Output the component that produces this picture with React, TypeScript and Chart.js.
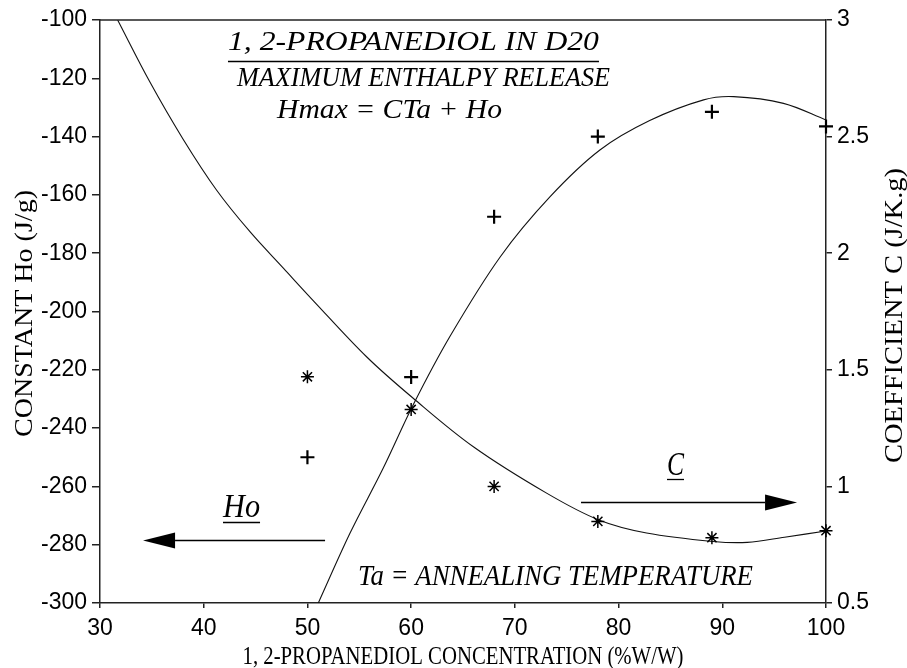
import React, { useEffect, useRef } from "react";
import { Chart, registerables } from "chart.js";

Chart.register(...registerables);

// Measured data (concentration %W/W)
const concentration = [50, 60, 68, 78, 89, 100];
const hoValues = [-250, -222.5, -167.5, -140, -131.5, -136.5];
const cValues = [1.47, 1.33, 1.0, 0.85, 0.78, 0.81];

// Fitted curves
const hoCurveX = [51.05, 54.1, 57.3, 60.2, 63.75, 68.6, 73.4, 78.2, 83.0, 88.2, 91.1, 95.9, 100];
const hoCurveY = [-300, -276.1, -253.8, -232, -208.5, -181.2, -160.6, -144.6, -134.5, -127.4, -126.3, -128.6, -134.3];
const cCurveX = [31.7, 34.8, 38.0, 41.25, 44.5, 47.7, 50.6, 55.7, 60.2, 66.0, 73.1, 78.1, 82.7, 89.1, 92.4, 96.0, 100];
const cCurveY = [3.0, 2.735, 2.49, 2.27, 2.09, 1.935, 1.795, 1.556, 1.378, 1.17, 0.97, 0.856, 0.8, 0.764, 0.76, 0.782, 0.809];

// Tick values
const xTicks = [30, 40, 50, 60, 70, 80, 90, 100];
const hoTicks = [-300, -280, -260, -240, -220, -200, -180, -160, -140, -120, -100];
const cTicks = [0.5, 1, 1.5, 2, 2.5, 3];

const xTitle = "1, 2-PROPANEDIOL CONCENTRATION (%W/W)";
const hoTitle = "CONSTANT Ho (J/g)";
const cTitle = "COEFFICIENT C (J/K.g)";

const SERIF = '"Liberation Serif", "DejaVu Serif", serif';
const SANS = '"Liberation Sans", Arial, sans-serif';

// Annotations placed in data coordinates (x: concentration, y: Ho axis)
const notes = [
  { text: "1, 2-PROPANEDIOL IN D20", x0: 42.34, x1: 78.11, y: -110.3, size: 28, underline: -114.1 },
  { text: "MAXIMUM ENTHALPY RELEASE", x0: 43.21, x1: 79.18, y: -122.6, size: 27 },
  { text: "Hmax = CTa + Ho", x0: 47.07, x1: 68.76, y: -133.6, size: 27 },
  { text: "Ho", x0: 41.86, x1: 45.43, y: -270.5, size: 34, underline: -272.2 },
  { text: "C", x0: 84.67, x1: 86.31, y: -256.1, size: 34, underline: -257.5 },
  { text: "Ta = ANNEALING TEMPERATURE", x0: 54.88, x1: 92.96, y: -293.8, size: 30 },
];
const arrows = [
  { from: 51.7, tip: 34.15, y: -278.4 },
  { from: 76.38, tip: 97.21, y: -265.2 },
];

function drawFitted(ctx: CanvasRenderingContext2D, text: string, left: number, width: number, baseline: number, font: string) {
  ctx.save();
  ctx.font = font;
  const w = ctx.measureText(text).width;
  ctx.translate(left, baseline);
  ctx.scale(width / w, 1);
  ctx.textAlign = "left";
  ctx.textBaseline = "alphabetic";
  ctx.fillText(text, 0, 0);
  ctx.restore();
}

function drawFittedCentered(ctx: CanvasRenderingContext2D, text: string, cx: number, baseline: number, len: number, font: string, rot: number) {
  ctx.save();
  ctx.font = font;
  const w = ctx.measureText(text).width;
  ctx.translate(cx, baseline);
  ctx.rotate(rot);
  ctx.scale(len / w, 1);
  ctx.textAlign = "center";
  ctx.textBaseline = "alphabetic";
  ctx.fillText(text, 0, 0);
  ctx.restore();
}

const decorPlugin = {
  id: "decor",
  beforeDraw(chart: any) {
    const { ctx } = chart;
    ctx.save();
    ctx.fillStyle = "#fff";
    ctx.fillRect(0, 0, chart.width, chart.height);
    ctx.restore();
  },
  afterDraw(chart: any) {
    const { ctx, chartArea } = chart;
    const x = chart.scales.x;
    const y = chart.scales.yHo;
    ctx.save();
    ctx.strokeStyle = "#222";
    ctx.lineWidth = 1.5;
    ctx.beginPath();
    ctx.moveTo(chartArea.left, chartArea.top);
    ctx.lineTo(chartArea.right, chartArea.top);
    ctx.stroke();

    ctx.fillStyle = "#000";
    ctx.strokeStyle = "#000";
    for (const n of notes) {
      const l = x.getPixelForValue(n.x0);
      const r = x.getPixelForValue(n.x1);
      const b = y.getPixelForValue(n.y);
      drawFitted(ctx, n.text, l, r - l, b, `italic ${n.size}px ${SERIF}`);
      if (n.underline !== undefined) {
        const u = Math.round(y.getPixelForValue(n.underline)) + 0.5;
        ctx.lineWidth = 1.3;
        ctx.beginPath();
        ctx.moveTo(l, u);
        ctx.lineTo(r, u);
        ctx.stroke();
      }
    }

    for (const a of arrows) {
      const p0 = x.getPixelForValue(a.from);
      const pt = x.getPixelForValue(a.tip);
      const py = Math.round(y.getPixelForValue(a.y)) + 0.5;
      const dir = pt > p0 ? 1 : -1;
      const head = 32;
      const half = 8;
      ctx.lineWidth = 1.3;
      ctx.beginPath();
      ctx.moveTo(p0, py);
      ctx.lineTo(pt - dir * head, py);
      ctx.stroke();
      ctx.beginPath();
      ctx.moveTo(pt, py);
      ctx.lineTo(pt - dir * head, py - half);
      ctx.lineTo(pt - dir * head, py + half);
      ctx.closePath();
      ctx.fill();
    }

    // Axis titles
    const midY = (chartArea.top + chartArea.bottom) / 2;
    const midX = (chartArea.left + chartArea.right) / 2;
    drawFittedCentered(ctx, xTitle, midX, 664, 441, `25px ${SERIF}`, 0);
    drawFittedCentered(ctx, hoTitle, 32, midY + 2, 247, `26px ${SERIF}`, -Math.PI / 2);
    drawFittedCentered(ctx, cTitle, 901.5, midY + 4, 295, `26px ${SERIF}`, -Math.PI / 2);
    ctx.restore();
  },
};

export default function App() {
  const ref = useRef<HTMLCanvasElement | null>(null);
  useEffect(() => {
    if (!ref.current) return;
    const tickFont = { family: SANS, size: 23 };
    const fmt = (v: any) => String(v);
    const chart = new Chart(ref.current, {
      type: "scatter",
      data: {
        datasets: [
          {
            label: "Ho",
            yAxisID: "yHo",
            data: concentration.map((c, i) => ({ x: c, y: hoValues[i] })),
            pointStyle: "cross",
            pointRadius: 7,
            pointBorderWidth: 2.2,
            borderColor: "#000",
            backgroundColor: "#000",
            showLine: false,
            clip: false,
          },
          {
            label: "C",
            yAxisID: "yC",
            data: concentration.map((c, i) => ({ x: c, y: cValues[i] })),
            pointStyle: "star",
            pointRadius: 6.5,
            pointBorderWidth: 1.5,
            borderColor: "#000",
            backgroundColor: "#000",
            showLine: false,
            clip: false,
          },
          {
            label: "Ho fit",
            yAxisID: "yHo",
            data: hoCurveX.map((v, i) => ({ x: v, y: hoCurveY[i] })),
            showLine: true,
            pointRadius: 0,
            borderWidth: 1.1,
            borderColor: "#111",
            tension: 0.35,
          },
          {
            label: "C fit",
            yAxisID: "yC",
            data: cCurveX.map((v, i) => ({ x: v, y: cCurveY[i] })),
            showLine: true,
            pointRadius: 0,
            borderWidth: 1.1,
            borderColor: "#111",
            tension: 0.35,
          },
        ],
      },
      options: {
        animation: false,
        responsive: false,
        layout: { padding: { top: 20, left: 0, right: 0, bottom: 0 } },
        plugins: { legend: { display: false }, tooltip: { enabled: false } },
        scales: {
          x: {
            type: "linear",
            position: "bottom",
            min: 30,
            max: 100,
            afterBuildTicks: (s: any) => { s.ticks = xTicks.map((v) => ({ value: v })); },
            afterFit: (s: any) => { s.height = 65; },
            grid: { drawOnChartArea: false, drawTicks: true, tickLength: 5, color: "#222", lineWidth: 1.5 },
            border: { color: "#222", width: 1.5 },
            ticks: { font: tickFont, color: "#000", padding: 7, maxRotation: 0, callback: fmt },
          },
          yHo: {
            type: "linear",
            position: "left",
            min: -300,
            max: -100,
            afterBuildTicks: (s: any) => { s.ticks = hoTicks.map((v) => ({ value: v })); },
            afterFit: (s: any) => { s.width = 100; },
            grid: { drawOnChartArea: false, drawTicks: true, tickLength: 8, color: "#222", lineWidth: 1.5 },
            border: { color: "#222", width: 1.5 },
            ticks: { font: tickFont, color: "#000", padding: 5, callback: fmt },
          },
          yC: {
            type: "linear",
            position: "right",
            min: 0.5,
            max: 3,
            afterBuildTicks: (s: any) => { s.ticks = cTicks.map((v) => ({ value: v })); },
            afterFit: (s: any) => { s.width = 81; },
            grid: { drawOnChartArea: false, drawTicks: true, tickLength: 6, color: "#222", lineWidth: 1.5 },
            border: { color: "#222", width: 1.5 },
            ticks: { font: tickFont, color: "#000", padding: 5, callback: fmt },
          },
        },
      },
      plugins: [decorPlugin],
    } as any);
    return () => chart.destroy();
  }, []);
  return (
    <div style={{ position: "absolute", left: 0, top: 0, width: 907, height: 668 }}>
      <canvas ref={ref} width={907} height={668} style={{ display: "block" }} />
    </div>
  );
}
